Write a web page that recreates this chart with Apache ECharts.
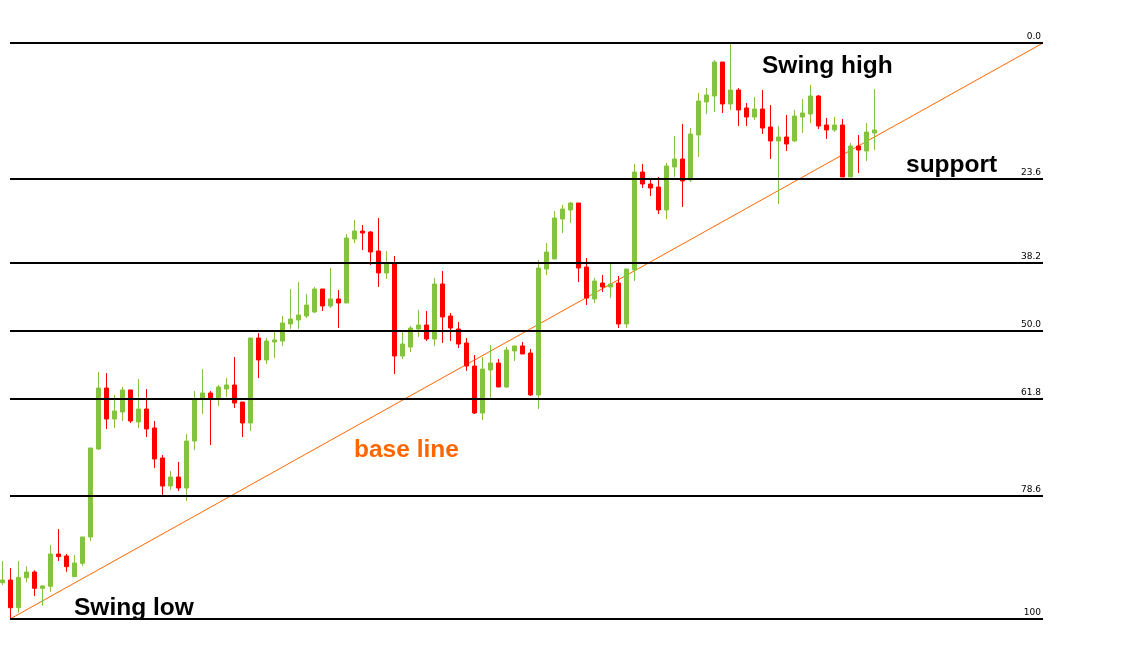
<!DOCTYPE html>
<html>
<head>
<meta charset="utf-8">
<script src="https://cdn.jsdelivr.net/npm/echarts@6/dist/echarts.min.js"></script>
<style>
html,body{margin:0;padding:0;background:#fff;}
#chart{width:1123px;height:668px;}
</style>
</head>
<body>
<div id="chart"></div>
<script>
// price scale: swing low = 0, swing high = 100
const opens  = [6.30,6.77,1.96,7.17,8.16,5.33,5.68,11.28,10.94,7.34,9.67,14.24,29.51,40.10,34.72,35.94,39.76,34.20,36.46,33.16,27.95,23.09,24.65,22.74,30.90,38.37,39.24,38.37,39.93,40.63,37.67,34.03,48.78,44.97,48.09,48.26,51.22,51.91,52.60,53.30,57.29,54.34,55.56,54.86,65.97,67.36,67.19,63.89,60.07,61.81,45.66,47.22,50.35,51.04,48.61,58.16,52.60,50.35,47.92,43.92,35.76,43.23,44.44,40.28,46.53,47.40,46.18,38.89,60.76,62.50,69.44,71.01,72.22,61.11,55.56,58.33,57.64,58.33,51.22,60.59,77.60,75.52,75.00,71.01,78.47,79.86,76.22,84.03,89.76,90.80,96.70,89.41,91.84,88.72,87.15,88.54,85.42,82.99,83.68,82.99,87.15,87.67,90.80,85.76,84.90,85.76,76.74,82.12,81.25,84.38];
const closes = [6.77,1.96,7.24,8.16,5.33,5.73,11.28,10.82,9.08,9.72,14.24,29.69,40.10,34.72,36.11,39.76,34.38,36.46,32.99,27.78,23.09,24.65,22.74,30.90,38.02,39.24,38.37,40.28,40.63,37.50,34.03,48.78,44.97,48.26,48.44,51.39,52.08,52.78,54.51,57.29,54.34,55.56,54.86,66.15,67.36,67.01,63.72,60.07,61.81,45.66,47.74,50.52,51.04,48.61,58.16,52.43,50.52,47.74,43.92,35.76,43.40,44.44,40.28,46.70,47.40,46.01,38.89,60.94,63.72,69.62,71.18,72.22,60.94,55.73,58.68,57.64,58.16,51.22,60.76,77.60,75.52,74.83,71.01,78.65,79.86,76.04,84.20,89.93,90.97,96.70,89.41,91.84,88.37,87.15,88.54,85.24,82.99,83.68,82.47,87.33,87.85,90.80,85.59,84.90,85.76,76.74,82.12,81.42,84.55,84.90];
const lows   = [5.90,0.12,1.09,6.37,3.99,2.31,4.74,10.07,8.21,7.34,9.20,13.54,29.34,32.99,33.16,34.38,34.03,33.16,31.60,26.22,21.53,22.40,22.22,20.49,29.34,35.59,30.21,36.98,38.54,36.63,31.60,32.64,41.84,44.27,45.31,47.40,50.35,50.35,52.26,53.13,53.47,53.99,50.52,54.86,65.28,64.06,61.46,57.64,59.03,42.53,45.14,46.35,48.96,48.26,47.40,47.92,48.26,47.05,43.06,35.59,34.55,38.37,40.28,40.10,44.79,46.01,38.72,36.46,59.72,62.50,67.01,68.75,58.51,54.51,54.86,56.77,55.73,50.52,50.52,58.68,74.83,73.44,70.31,69.44,76.74,71.53,75.87,80.21,87.67,88.02,87.85,88.37,85.59,85.59,86.63,84.20,79.86,72.05,81.25,82.81,84.38,86.11,85.07,83.33,84.55,76.74,76.74,77.43,79.51,81.42];
const highs  = [10.07,8.85,10.07,9.15,8.45,5.90,12.85,15.63,11.28,11.11,14.24,29.69,42.88,42.71,38.89,40.28,39.76,41.67,39.93,34.38,28.47,25.69,27.26,32.12,39.58,43.40,39.58,40.63,41.84,45.49,37.67,48.78,49.65,48.78,50.17,52.60,57.29,58.51,56.42,57.64,57.29,60.94,57.12,66.84,69.27,68.40,67.36,69.62,63.89,63.02,49.83,50.87,53.65,53.47,59.20,60.42,53.13,51.56,48.78,45.83,45.49,47.57,45.14,47.22,47.40,48.09,46.88,62.33,65.28,70.83,71.88,72.40,72.22,62.67,59.20,59.72,61.63,59.55,60.76,78.99,78.99,76.22,76.74,79.17,83.85,85.94,85.24,91.32,92.19,97.05,96.70,100.00,92.19,89.58,90.63,91.84,89.24,85.59,87.50,88.37,90.28,92.71,90.97,86.98,87.15,86.81,82.64,84.03,86.11,92.01];

// Fibonacci retracement levels (0 = swing high, 100 = swing low)
const fibLevels = [0, 23.6, 38.2, 50, 61.8, 78.6, 100];
const fibLabels = ['0.0', '23.6', '38.2', '50.0', '61.8', '78.6', '100'];

// base line from swing low to swing high (x fraction, price)
const baseLineX = [0, 1];
const baseLineY = [0, 100];

const categories = opens.map((_, i) => String(i + 1));
const candleData = opens.map((o, i) => [o, closes[i], lows[i], highs[i]]);

const GREEN = '#82c341';
const RED = '#ff0000';
const ORANGE = '#ff6600';
const TEXT_FONT = 'bold 24.5px "Liberation Sans", Arial, sans-serif';

const chart = echarts.init(document.getElementById('chart'), null, {renderer: 'canvas'});
chart.setOption({
  animation: false,
  backgroundColor: '#ffffff',
  grid: [
    {left: 2.3, right: 248.7, top: 43, bottom: 49},
    {left: 10, right: 80, top: 43, bottom: 49}
  ],
  xAxis: [
    {type: 'category', gridIndex: 0, data: categories, boundaryGap: false, show: false},
    {type: 'value', gridIndex: 1, min: 0, max: 1, show: false}
  ],
  yAxis: [
    {type: 'value', gridIndex: 0, min: 0, max: 100, show: false},
    {type: 'value', gridIndex: 1, min: 0, max: 100, show: false}
  ],
  series: [
    {
      name: 'fib',
      type: 'line',
      xAxisIndex: 1, yAxisIndex: 1,
      data: baseLineX.map((x, i) => [x, baseLineY[i]]),
      symbol: 'none',
      lineStyle: {color: ORANGE, width: 1},
      z: 3,
      markLine: {
        silent: true,
        symbol: 'none',
        animation: false,
        lineStyle: {color: '#000', width: 2, type: 'solid'},
        label: {
          position: 'insideEndTop',
          color: '#000',
          fontSize: 9,
          fontFamily: 'DejaVu Sans',
          distance: [2, 2]
        },
        data: fibLevels.map((lv, i) => ({
          yAxis: 100 - lv,
          label: {formatter: fibLabels[i]}
        }))
      }
    },
    {
      name: 'price',
      type: 'candlestick',
      xAxisIndex: 0, yAxisIndex: 0,
      data: candleData,
      barWidth: 4,
      z: 4,
      itemStyle: {
        color: GREEN, color0: RED,
        borderColor: GREEN, borderColor0: RED,
        borderWidth: 1
      }
    }
  ],
  graphic: [
    {type: 'text', left: 762, top: 54, style: {text: 'Swing high', font: TEXT_FONT, fill: '#000'}},
    {type: 'text', left: 74, top: 596, style: {text: 'Swing low', font: TEXT_FONT, fill: '#000'}},
    {type: 'text', left: 906, top: 153, style: {text: 'support', font: TEXT_FONT, fill: '#000'}},
    {type: 'text', left: 354, top: 438, style: {text: 'base line', font: TEXT_FONT, fill: ORANGE}}
  ]
});
</script>
</body>
</html>
